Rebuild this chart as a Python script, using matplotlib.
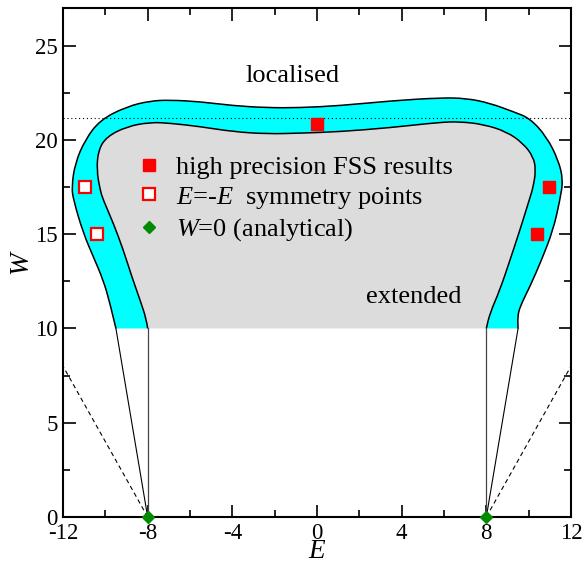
import matplotlib
matplotlib.use("Agg")
import matplotlib.pyplot as plt
from matplotlib.path import Path
from matplotlib.patches import PathPatch
import numpy as np

plt.rcParams['font.family'] = ['Liberation Serif', 'DejaVu Serif']
plt.rcParams['mathtext.fontset'] = 'custom'
plt.rcParams['mathtext.rm'] = 'Liberation Serif'
plt.rcParams['mathtext.it'] = 'Liberation Serif:italic'
plt.rcParams['axes.unicode_minus'] = False

# outer edge of the critical band (left bottom -> over the top -> right bottom)
outer_E = [-9.50, -9.78, -10.10, -10.57, -11.04, -11.51, -11.59, -11.43, -10.96, -10.25,
           -8.99, -7.89, -6.95, -5.53, -3.97, -2.38, -0.80, 1.09, 3.45, 5.81,
           7.07, 8.17, 9.27, 10.06, 10.85, 11.40, 11.63, 11.48, 11.16, 10.61,
           10.06, 9.59, 9.48, 9.50]
outer_W = [10.00, 11.34, 12.57, 13.81, 15.05, 16.82, 17.52, 18.76, 20.00, 21.06,
           21.77, 22.07, 22.12, 22.03, 21.82, 21.71, 21.71, 21.82, 22.07, 22.24,
           22.21, 21.95, 21.50, 21.15, 20.17, 18.94, 17.88, 16.82, 15.23, 13.63,
           12.22, 11.16, 10.63, 10.00]

# inner edge of the critical band
inner_E = [-8.00, -8.05, -8.36, -8.75, -9.15, -9.62, -10.10, -10.25, -10.41, -10.33,
           -9.94, -8.99, -7.89, -6.95, -5.53, -3.97, -2.38, -0.80, 1.09, 3.45,
           5.81, 6.75, 7.86, 8.96, 9.74, 10.22, 10.34, 10.22, 10.03, 9.59,
           9.12, 8.64, 8.17, 8.00]
inner_W = [10.00, 10.45, 11.51, 12.75, 14.16, 15.58, 16.82, 17.35, 18.41, 19.47,
           20.17, 20.71, 20.94, 20.89, 20.71, 20.44, 20.32, 20.36, 20.44, 20.65,
           20.94, 20.97, 20.83, 20.44, 19.82, 19.11, 18.41, 17.52, 16.82, 15.23,
           13.63, 12.04, 10.81, 10.00]

W_dotted = 21.15

# FSS results and their mirror images
fss_E = [0.0, 10.97, 10.38]
fss_W = [20.87, 17.5, 15.0]
sym_E = [-10.97, -10.38]
sym_W = [17.5, 15.0]
exact_E = [-8.0, 8.0]
exact_W = [0.0, 0.0]

# guide lines below W=10
left_band_E = [-9.5, -8.0]
right_band_E = [9.5, 8.0]
guide_W = [10.0, 0.0]
dash_left_E = [-8.0, -12.0]
dash_right_E = [8.0, 12.0]
dash_W = [0.0, 8.0]


def smooth_path(E, W, close=False):
    # quadratic bezier through the midpoints, the read points act as control points
    p = np.column_stack([E, W])
    verts = [p[0]]
    codes = [Path.MOVETO]
    for i in range(1, len(p) - 1):
        verts += [p[i], (p[i] + p[i + 1]) / 2]
        codes += [Path.CURVE3, Path.CURVE3]
    verts.append(p[-1])
    codes.append(Path.LINETO)
    if close:
        verts.append(p[0])
        codes.append(Path.CLOSEPOLY)
    return np.array(verts), codes


fig = plt.figure(figsize=(5.84, 5.63), dpi=100)
ax = fig.add_axes([0.1079, 0.0817, 0.8698, 0.9041])

ov, oc = smooth_path(outer_E, outer_W)
iv, ic = smooth_path(inner_E, inner_W)
irv, irc = smooth_path(inner_E[::-1], inner_W[::-1])

# cyan band between the two edges
band_codes = oc + [Path.LINETO] + irc[1:] + [Path.CLOSEPOLY]
band_verts = np.vstack([ov, irv, ov[:1]])
ax.add_patch(PathPatch(Path(band_verts, band_codes), fc='#00FFFF', lw=0, zorder=1))

# grey extended region under the inner edge
gv, gc = smooth_path(inner_E, inner_W, close=True)
ax.add_patch(PathPatch(Path(gv, gc), fc='#DCDCDC', lw=0, zorder=1))

ax.add_patch(PathPatch(Path(ov, oc), fc='none', ec='black', lw=1.1, zorder=2))
ax.add_patch(PathPatch(Path(iv, ic), fc='none', ec='black', lw=1.1, zorder=2))

ax.axhline(W_dotted, color='black', lw=0.8, ls=(0, (1, 2.5)), zorder=2)

ax.plot(left_band_E, guide_W, color='black', lw=0.8, zorder=2)
ax.plot(right_band_E, guide_W, color='black', lw=0.8, zorder=2)
ax.plot([left_band_E[1]] * 2, guide_W, color='#444444', lw=0.9, zorder=2)
ax.plot([right_band_E[1]] * 2, guide_W, color='#444444', lw=0.9, zorder=2)
ax.plot(dash_left_E, dash_W, color='black', lw=0.8, ls=(0, (4, 3)), zorder=2)
ax.plot(dash_right_E, dash_W, color='black', lw=0.8, ls=(0, (4, 3)), zorder=2)

p1, = ax.plot(fss_E, fss_W, 's', color='red', ms=9, mec='red', ls='none', zorder=5,
              label='high precision FSS results')
p2, = ax.plot(sym_E, sym_W, 's', mfc='white', mec='red', mew=1.6, ms=8.5, ls='none', zorder=5,
              label='$E$=-$E$  symmetry points')
p3, = ax.plot(exact_E, exact_W, 'D', color='#008B00', ms=6.6, ls='none', zorder=6,
              clip_on=False, label='$W$=0 (analytical)')

ax.legend(handles=[p1, p2, p3], loc='upper left', bbox_to_anchor=(-8.55, 19.18),
          bbox_transform=ax.transData, frameon=False, fontsize=19,
          handlelength=1.0, handletextpad=0.5, labelspacing=0.22,
          borderpad=0, borderaxespad=0, numpoints=1)

ax.text(-1.18, 23.09, 'localised', fontsize=19, ha='center', va='baseline')
ax.text(4.58, 11.37, 'extended', fontsize=19, ha='center', va='baseline')

ax.set_xlim(-12, 12)
ax.set_ylim(0, 27)
ax.set_xticks([-12, -8, -4, 0, 4, 8, 12])
ax.set_xticks(np.arange(-12, 13, 2), minor=True)
ax.set_yticks([0, 5, 10, 15, 20, 25])
ax.set_yticks(np.arange(0, 27, 2.5), minor=True)
ax.tick_params(which='both', direction='in', top=True, right=True, labelsize=16.5, pad=4)
ax.tick_params(which='major', length=9, width=1.2)
ax.tick_params(which='minor', length=5, width=1.2)
for s in ax.spines.values():
    s.set_linewidth(1.5)

ax.set_xlabel('$E$', fontsize=19.5, labelpad=-3.5)
ax.set_ylabel('$W$', fontsize=19.5, labelpad=0)

fig.savefig('out.png', dpi=100)
